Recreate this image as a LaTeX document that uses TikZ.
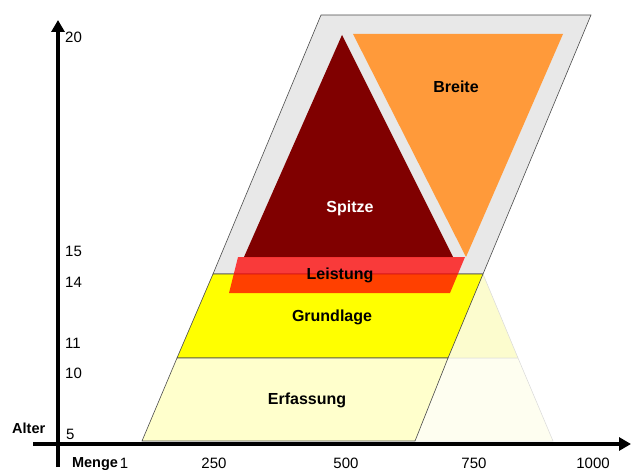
\documentclass[tikz,border=0pt]{standalone}
\usepackage{fontspec}
\setmainfont{Liberation Sans}
\usetikzlibrary{arrows.meta}
\definecolor{rahmengrau}{HTML}{E8E8E8}
\definecolor{spitzerot}{HTML}{800000}
\definecolor{breiteorange}{HTML}{FF9A3A}
\definecolor{erfassgelb}{HTML}{FFFFCC}
\definecolor{blassgelb}{HTML}{FCFCCE}
\definecolor{blassweiss}{HTML}{FEFEF0}
\definecolor{grundgelb}{HTML}{FFFF00}
\begin{document}
\begin{tikzpicture}[x=1pt,y=-1pt,
  achse/.style={line width=4pt,-{Triangle[length=12pt,width=13pt]}},
  zahl/.style={font=\fontsize{15}{17}\selectfont,inner sep=0pt},
  titel/.style={font=\fontsize{14.5}{16}\selectfont\bfseries,inner sep=0pt},
  feld/.style={font=\fontsize{16}{18}\selectfont\bfseries,inner sep=0pt},
  kante/.style={draw=black!70,line width=0.6pt},
  blass/.style={draw=black!15,line width=0.5pt}]
\useasboundingbox (0,0) rectangle (631,470);

% Rahmen (grau)
\coordinate (g1) at (321,15);
\coordinate (g2) at (591,15);
\coordinate (g3) at (483,274);
\coordinate (g4) at (213,274);
\draw[kante,fill=rahmengrau](g1)--(g2)--(g3)--(g4)--cycle;

% Spitze und Breite
\fill[spitzerot](342,35)--(453,257)--(244,257)--cycle;
\fill[breiteorange](353,34)--(563,34)--(466,257)--cycle;

% blasses Dreieck rechts
\coordinate (e1) at (448,358);
\coordinate (e2) at (518,358);
\coordinate (e3) at (553,441);
\coordinate (e4) at (415,441);
\filldraw[blass,fill=blassgelb](g3)--(e2)--(e1)--cycle;
\filldraw[blass,fill=blassweiss](e1)--(e2)--(e3)--(e4)--cycle;

% Grundlage
\coordinate (y4) at (177,358);
\draw[kante,fill=grundgelb](g4)--(g3)--(e1)--(y4)--cycle;

% Erfassung
\coordinate (f4) at (142,441);
\draw[kante,fill=erfassgelb](y4)--(e1)--(e4)--(f4)--cycle;

% Leistung
\fill[red,opacity=0.75](238,257)--(465,257)--(450,293)--(229,293)--cycle;

% Achsen
\coordinate (ay0) at (58,467);
\coordinate (ay1) at (58,20);
\coordinate (ax0) at (33,444);
\coordinate (ax1) at (631,444);
\draw[achse](ay0)--(ay1);
\draw[achse](ax0)--(ax1);

\node[feld] (breite) at (456,87) {Breite};
\node[feld,text=white] (spitze) at (350,208) {Spitze};
\node[feld] (leistung) at (340,275) {Leistung};
\node[feld] (grundlage) at (332,317) {Grundlage};
\node[feld] (erfassung) at (307,400) {Erfassung};

\node[zahl,anchor=west] (a20) at (65,37) {20};
\node[zahl,anchor=west] (a15) at (65,251) {15};
\node[zahl,anchor=west] (a14) at (65,282) {14};
\node[zahl,anchor=west] (a11) at (65,343) {11};
\node[zahl,anchor=west] (a10) at (65,373) {10};
\node[zahl,anchor=west] (a5) at (66,434) {5};
\node[titel,anchor=west] (alter) at (12,428) {Alter};

\node[titel] (menge) at (95,464) {Menge};
\node[zahl] (m1) at (124,463) {1};
\node[zahl] (m250) at (214,463) {250};
\node[zahl] (m500) at (346,463) {500};
\node[zahl] (m750) at (474,463) {750};
\node[zahl] (m1000) at (593,463) {1000};
\end{tikzpicture}
\end{document}
